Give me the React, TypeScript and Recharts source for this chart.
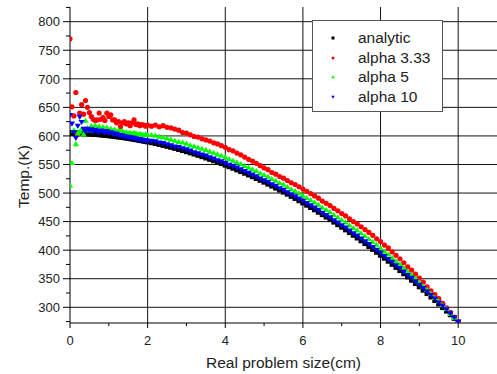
import React from 'react';
import { ScatterChart, Scatter, XAxis, YAxis, CartesianGrid } from 'recharts';

// x positions (cm)
const xs = [
  0, 0.05, 0.1, 0.15, 0.2, 0.25, 0.3, 0.35, 0.4, 0.45,
  0.5, 0.55, 0.6, 0.65, 0.7, 0.75, 0.8, 0.85, 0.9, 0.95,
  1, 1.05, 1.1, 1.15, 1.2, 1.25, 1.3, 1.35, 1.4, 1.45,
  1.5, 1.55, 1.6, 1.65, 1.7, 1.75, 1.8, 1.85, 1.9, 1.95,
  2,
  2.1, 2.2, 2.3, 2.4, 2.5, 2.6, 2.7, 2.8, 2.9, 3,
  3.1, 3.2, 3.3, 3.4, 3.5, 3.6, 3.7, 3.8, 3.9, 4,
  4.1, 4.2, 4.3, 4.4, 4.5, 4.6, 4.7, 4.8, 4.9, 5,
  5.1, 5.2, 5.3, 5.4, 5.5, 5.6, 5.7, 5.8, 5.9, 6,
  6.1, 6.2, 6.3, 6.4, 6.5, 6.6, 6.7, 6.8, 6.9, 7,
  7.1, 7.2, 7.3, 7.4, 7.5, 7.6, 7.7, 7.8, 7.9, 8,
  8.1, 8.2, 8.3, 8.4, 8.5, 8.6, 8.7, 8.8, 8.9, 9,
  9.1, 9.2, 9.3, 9.4, 9.5, 9.6, 9.7, 9.8, 9.9, 10,
];

const analytic = [
  605.0, 604.9, 604.8, 604.7, 604.6, 604.5, 604.3, 604.2, 604.0, 603.8,
  603.6, 603.4, 603.1, 602.9, 602.6, 602.3, 602.0, 601.6, 601.3, 600.9,
  600.6, 600.2, 599.8, 599.3, 598.9, 598.4, 598.0, 597.5, 597.0, 596.5,
  595.9, 595.4, 594.8, 594.2, 593.7, 593.0, 592.4, 591.8, 591.1, 590.4,
  589.7,
  588.3, 586.8, 585.3, 583.6, 582.0, 580.2, 578.4, 576.5, 574.6, 572.6,
  570.5, 568.4, 566.2, 563.9, 561.6, 559.2, 556.8, 554.3, 551.7, 549.0,
  546.3, 543.6, 540.7, 537.8, 534.9, 531.9, 528.8, 525.6, 522.4, 519.2,
  515.8, 512.4, 508.9, 505.4, 501.8, 498.2, 494.4, 490.7, 486.8, 482.9,
  478.9, 474.9, 470.8, 466.6, 462.4, 458.1, 453.7, 449.3, 444.8, 440.3,
  435.7, 431.0, 426.3, 421.5, 416.6, 411.7, 406.7, 401.6, 396.5, 391.3,
  386.1, 380.8, 375.4, 370.0, 364.5, 358.9, 353.3, 347.6, 341.8, 336.0,
  330.1, 324.2, 318.2, 312.1, 305.9, 299.7, 293.5, 287.1, 280.8, 274.3,
];

const alpha333 = [
  770, 651, 635, 676, 603, 640, 655, 638, 662, 650,
  641, 634, 629, 627, 628, 640, 629, 632, 627, 640,
  634, 637, 628, 628, 623, 625, 616, 623, 625, 621,
  623, 618, 623, 628, 620, 621, 618, 620, 619, 617,
  619,
  617, 619, 616, 618, 615, 614, 612, 610, 606, 605,
  602, 599, 598, 595, 593, 591, 588, 586, 583, 580,
  576, 574, 570, 567, 563, 559, 556, 552, 548, 544,
  541, 536, 533, 529, 526, 522, 518, 515, 511, 507,
  503, 499, 495, 491, 486, 482, 478, 473, 469, 464,
  460, 455, 450, 446, 441, 436, 431, 426, 420, 415,
  409, 404, 397, 391, 385, 378, 371, 365, 358, 351,
  344, 336, 329, 322, 315, 307, 299, 291, 283, 274,
];

const alpha5 = [
  514, 553, 610, 586, 605, 608, 612, 603, 627, 614,
  610, 618, 612, 619, 611, 617, 610, 616, 612, 615,
  611, 613, 609, 612, 608, 610, 607, 609, 606, 607,
  605, 606, 604, 606, 605, 603, 604, 603, 602, 603,
  602,
  602, 601, 599, 598, 596, 594, 592, 590, 589, 587,
  584, 582, 580, 578, 576, 573, 571, 568, 566, 563,
  560, 557, 554, 551, 548, 545, 542, 539, 535, 532,
  529, 525, 522, 518, 515, 511, 507, 504, 500, 496,
  492, 488, 484, 480, 475, 471, 467, 462, 458, 453,
  449, 444, 439, 435, 430, 425, 420, 415, 410, 404,
  398, 393, 387, 381, 376, 369, 363, 357, 351, 344,
  337, 331, 324, 317, 311, 304, 297, 289, 282, 274,
];

const alpha10 = [
  636, 621, 606, 596, 617, 633, 624, 612, 608, 612,
  609, 611, 607, 610, 608, 606, 609, 607, 606, 608,
  605, 606, 604, 603, 603, 601, 601, 600, 599, 598,
  598, 597, 596, 596, 595, 594, 594, 593, 592, 592,
  591,
  591, 590, 588, 587, 585, 583, 581, 580, 578, 576,
  574, 571, 569, 567, 565, 562, 560, 557, 555, 552,
  549, 547, 544, 541, 538, 535, 532, 529, 525, 522,
  519, 515, 512, 508, 505, 501, 497, 494, 490, 486,
  482, 478, 474, 470, 465, 461, 457, 452, 448, 443,
  439, 434, 429, 425, 420, 415, 410, 405, 400, 395,
  389, 384, 379, 373, 368, 362, 356, 351, 345, 339,
  333, 327, 321, 315, 308, 302, 296, 289, 282, 274,
];

const xTicks = [0, 1, 2, 3, 4, 5, 6, 7, 8, 9, 10];
const yTicks = [275, 300, 325, 350, 375, 400, 425, 450, 475, 500, 525, 550, 575, 600, 625, 650, 675, 700, 725, 750, 775, 800, 825];
const xGrid = [2, 4, 6, 8, 10];
const yGrid = [300, 350, 400, 450, 500, 550, 600, 650, 700, 750, 800];

const series = [
  { name: 'analytic', values: analytic, color: '#000000', kind: 'square' },
  { name: 'alpha 3.33', values: alpha333, color: '#ff0000', kind: 'circle' },
  { name: 'alpha 5', values: alpha5, color: '#00ff00', kind: 'up' },
  { name: 'alpha 10', values: alpha10, color: '#0000ff', kind: 'down' },
];

const FONT = '"Liberation Sans", Arial, sans-serif';

// marker glyphs
function Marker({ cx, cy, kind, color, s }: any) {
  if (cx == null || cy == null) return null;
  if (kind === 'square') return <rect x={cx - s / 2} y={cy - s / 2} width={s} height={s} fill={color} />;
  if (kind === 'circle') return <circle cx={cx} cy={cy} r={s / 2} fill={color} />;
  if (kind === 'up')
    return <polygon points={`${cx},${cy - s * 0.55} ${cx - s * 0.6},${cy + s * 0.45} ${cx + s * 0.6},${cy + s * 0.45}`} fill={color} />;
  return <polygon points={`${cx},${cy + s * 0.55} ${cx - s * 0.6},${cy - s * 0.45} ${cx + s * 0.6},${cy - s * 0.45}`} fill={color} />;
}

const XTick = (props: any) => {
  const { x, y, payload } = props;
  const v = payload.value;
  const major = v % 2 === 0;
  return (
    <g>
      <line x1={x} x2={x} y1={y} y2={y + (major ? 5 : 3)} stroke="#000" />
      {major && (
        <text x={x} y={y + 22} textAnchor="middle" fontSize={13} fill="#222" fontFamily={FONT}>
          {v}
        </text>
      )}
    </g>
  );
};

const YTick = (props: any) => {
  const { x, y, payload } = props;
  const v = payload.value;
  const major = v % 50 === 0;
  return (
    <g>
      <line x1={x - (major ? 7 : 4)} x2={x} y1={y} y2={y} stroke="#000" />
      {major && (
        <text x={x - 10} y={y + 4.7} textAnchor="end" fontSize={13} fill="#222" fontFamily={FONT}>
          {v}
        </text>
      )}
    </g>
  );
};

export default function App() {
  return (
    <div style={{ position: 'absolute', left: 0, top: 0, width: 497, height: 374, background: '#fff', fontFamily: FONT }}>
      <ScatterChart width={497} height={374} margin={{ top: 7, right: 0, left: 0, bottom: 0 }}>
        <CartesianGrid stroke="#111" verticalValues={xGrid} horizontalValues={yGrid} />
        <XAxis
          type="number"
          dataKey="x"
          domain={[0, 11]}
          allowDataOverflow
          ticks={xTicks}
          interval={0}
          tickSize={0}
          tickMargin={0}
          tickLine={false}
          tick={<XTick />}
          height={51}
          axisLine={{ stroke: '#000' }}
          label={{
            content: () => (
              <text x={283.5} y={367.5} textAnchor="middle" fontSize={15.5} fill="#222" fontFamily={FONT}>
                Real problem size(cm)
              </text>
            ),
          }}
        />
        <YAxis
          type="number"
          dataKey="y"
          domain={[272.5, 825.7]}
          allowDataOverflow
          ticks={yTicks}
          interval={0}
          tickSize={0}
          tickMargin={0}
          tickLine={false}
          tick={<YTick />}
          width={70}
          axisLine={{ stroke: '#000' }}
          label={{
            content: () => (
              <text
                x={28.5}
                y={176.5}
                textAnchor="middle"
                fontSize={15.5}
                fill="#222"
                fontFamily={FONT}
                transform="rotate(-90, 28.5, 176.5)"
              >
                Temp.(K)
              </text>
            ),
          }}
        />
        {series.map((s) => (
          <Scatter
            key={s.name}
            name={s.name}
            data={xs.map((x, i) => ({ x, y: s.values[i] }))}
            isAnimationActive={false}
            shape={(p: any) => <Marker cx={p.cx} cy={p.cy} kind={s.kind} color={s.color} s={5.2} />}
          />
        ))}
      </ScatterChart>

      {/* legend box */}
      <div
        style={{
          position: 'absolute',
          left: 312,
          top: 20,
          width: 131,
          height: 92,
          boxSizing: 'border-box',
          border: '1px solid #555',
          background: '#fff',
        }}
      >
        {series.map((s, i) => (
          <div
            key={s.name}
            style={{
              position: 'absolute',
              left: 0,
              top: 7 + i * 19.5,
              height: 20,
              display: 'flex',
              alignItems: 'center',
              whiteSpace: 'nowrap',
            }}
          >
            <svg width={10} height={10} style={{ marginLeft: 15 }}>
              <Marker cx={5} cy={5} kind={s.kind} color={s.color} s={3} />
            </svg>
            <span style={{ marginLeft: 20, fontSize: 15.5, color: '#222', lineHeight: '20px' }}>{s.name}</span>
          </div>
        ))}
      </div>
    </div>
  );
}
